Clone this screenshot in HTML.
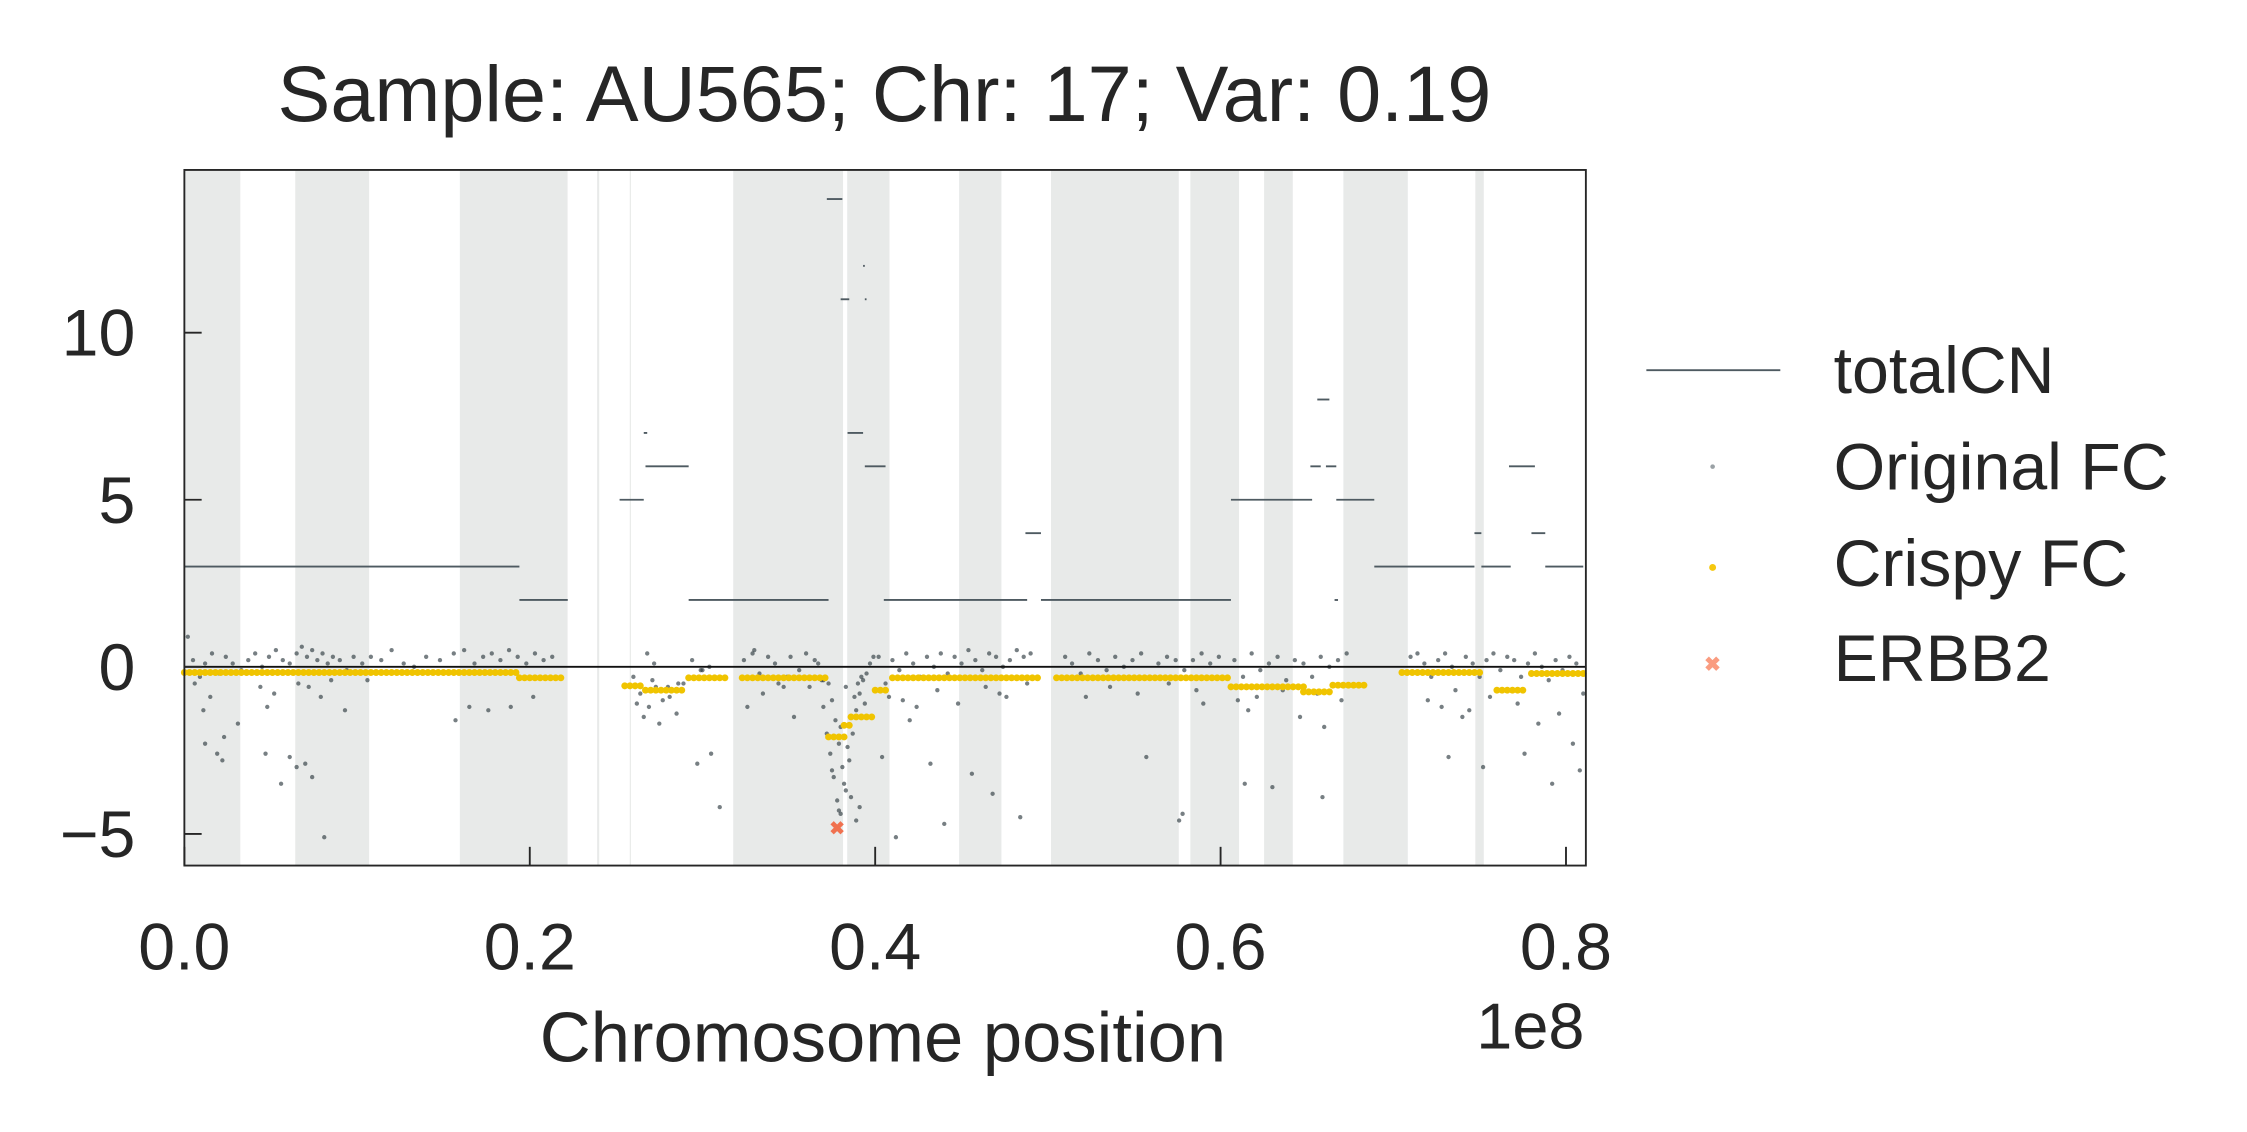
<!DOCTYPE html>
<html><head><meta charset="utf-8"><style>
html,body{margin:0;padding:0;background:#fff;}
svg{display:block;font-family:"Liberation Sans",sans-serif;}
</style></head><body>
<svg id="chart" width="2247" height="1132" viewBox="0 0 1560 786" preserveAspectRatio="none" xmlns="http://www.w3.org/2000/svg">
<rect width="1560" height="786" fill="#fff"/>
<text x="614" y="84" font-size="55" text-anchor="middle" fill="#262626">Sample: AU565; Chr: 17; Var: 0.19</text>
<g id="bands"></g><g id="cn"></g><g id="orig"></g><g id="crispy"></g><g id="erbb"></g>
<line x1="128" x2="1101" y1="463" y2="463" stroke="#111" stroke-width="1.3"/>
<rect x="128" y="118" width="973" height="483" fill="none" stroke="#262626" stroke-width="1.3"/>
<g id="axes"></g>
<text x="613" y="737" font-size="49" text-anchor="middle" fill="#262626">Chromosome position</text>
<text x="1100" y="728" font-size="45" text-anchor="end" fill="#262626">1e8</text>
<g>
<line x1="1143" x2="1236" y1="257" y2="257" stroke="#4e5a61" stroke-width="1.3"/>
<text x="1273" y="273" font-size="46" fill="#262626">totalCN</text>
<circle cx="1189" cy="324" r="1.6" fill="#9aa1a5"/>
<text x="1273" y="340" font-size="46" fill="#262626">Original FC</text>
<circle cx="1189" cy="394" r="2.4" fill="#f5c80f"/>
<text x="1273" y="407" font-size="46" fill="#262626">Crispy FC</text>
<text x="1189" y="466" font-size="14" text-anchor="middle" fill="#fa9c80" font-weight="bold">✖</text>
<text x="1273" y="473" font-size="46" fill="#262626">ERBB2</text>
</g>
</svg>
<script>
const NS="http://www.w3.org/2000/svg";
// positions in Mb; values in fold change / copy number
const bandStarts=[0,6.42,15.95,23.90,25.79,31.78,38.38,44.86,50.18,58.25,62.52,67.11,74.75];
const bandEnds=[3.24,10.70,22.19,24.02,25.85,38.14,40.83,47.31,57.58,61.07,64.18,70.84,75.24];
const cnStarts=[0,19.4,25.2,26.6,26.7,29.2,37.2,38.0,39.4,39.3,38.4,39.4,40.5,48.7,49.6,60.6,65.6,65.2,66.1,66.6,66.7,68.9,74.7,75.1,76.7,78.0,78.8];
const cnEnds=[19.4,22.2,26.6,26.8,29.2,37.3,38.1,38.5,39.5,39.4,39.3,40.6,48.8,49.6,60.6,65.3,66.3,65.8,66.7,66.8,68.9,74.7,75.1,76.8,78.2,78.8,81.0];
const cnValues=[3,2,5,7,6,2,14,11,11,12,7,6,2,4,2,5,8,6,6,2,5,3,4,3,6,4,3];
const crispyStarts=[0,19.4,25.5,26.7,29.2,32.3,37.3,38.2,38.6,40.0,41.0,50.5,60.6,64.8,66.5,70.5,76.0,78.0];
const crispyEnds=[19.3,21.8,26.5,29.0,31.5,37.2,38.2,38.5,40.0,40.8,49.5,60.4,64.8,66.5,68.5,75.0,77.5,81.0];
const crispyValues=[-0.17,-0.33,-0.57,-0.7,-0.33,-0.33,-2.1,-1.75,-1.5,-0.7,-0.33,-0.33,-0.6,-0.75,-0.55,-0.17,-0.7,-0.2];
const origX=[0.2,0.5,0.9,1.2,1.6,2.0,2.4,2.8,3.3,3.7,4.1,4.5,4.9,5.3,5.7,6.1,6.5,6.8,7.1,7.4,7.7,8.0,8.3,8.6,9.0,9.4,9.8,10.3,10.8,11.4,12.0,12.7,13.3,14.0,14.8,15.6,16.2,16.8,17.3,17.8,18.3,18.8,19.3,19.8,20.3,20.8,21.3,
0.6,1.1,1.5,2.3,3.1,4.4,4.8,5.2,6.6,7.2,7.9,8.5,9.3,10.6,16.5,17.6,
1.2,1.9,2.2,4.7,5.6,6.1,6.5,7.0,7.4,8.1,15.7,18.9,20.2,
26.0,26.4,26.9,27.3,27.7,28.1,28.5,28.9,29.4,29.9,30.4,26.2,26.6,27.1,27.5,28.0,28.6,26.8,27.2,29.7,30.5,31.0,
32.4,32.9,33.3,33.8,34.2,34.7,35.1,35.6,36.0,36.5,36.9,32.6,33.5,34.4,35.3,36.2,37.0,33.0,34.9,36.7,30.0,30.4,
37.3,37.5,37.7,37.9,38.1,38.3,38.5,38.7,38.9,39.1,39.3,39.5,39.7,39.9,37.4,37.6,37.8,38.0,38.2,38.4,38.6,38.8,39.0,39.2,37.0,37.2,37.5,38.0,38.6,39.1,38.9,39.4,37.9,38.3,39.8,40.4,
40.2,40.6,41.0,41.4,41.8,42.2,42.6,43.0,43.4,43.8,44.2,44.6,45.0,45.4,45.8,46.2,46.6,47.0,47.4,47.8,48.2,48.6,49.0,40.8,41.6,42.4,43.6,44.8,46.4,47.6,48.8,42.0,43.2,45.6,47.2,48.4,41.2,44.0,46.8,
51.0,51.4,51.9,52.4,52.9,53.4,53.9,54.4,54.9,55.4,55.9,56.4,56.9,57.4,57.9,58.4,58.9,59.4,59.9,52.2,53.6,55.2,57.0,58.6,55.7,57.6,57.8,59.0,
60.8,61.3,61.8,62.3,62.8,63.3,63.8,64.3,64.8,65.3,65.8,66.3,66.8,67.3,61.0,61.6,62.1,63.6,64.6,65.6,66.0,67.0,61.4,65.9,63.0,
71.0,71.4,71.8,72.2,72.6,73.0,73.4,73.8,74.2,74.6,75.0,75.4,75.8,76.2,76.6,77.0,77.4,77.8,78.2,78.6,79.0,79.4,79.8,80.2,80.6,81.0,72.0,72.8,73.6,74.4,75.6,77.2,78.4,79.6,80.4,73.2,75.2,77.6,79.2,80.8,74.0];
const origY=[0.9,0.2,-0.3,0.1,0.4,-0.2,0.3,0.1,-0.1,0.2,0.4,0.0,0.3,0.5,0.2,0.1,0.4,0.6,0.3,0.5,0.2,0.4,0.1,0.3,0.2,-0.1,0.3,0.1,0.3,0.2,0.5,0.1,0.0,0.3,0.2,0.4,0.5,0.1,0.3,0.4,0.2,0.5,0.3,0.1,0.4,0.2,0.3,
-0.5,-1.3,-0.9,-2.1,-1.7,-0.6,-1.2,-0.8,-0.5,-0.6,-0.9,-0.4,-1.3,-0.4,-1.2,-1.3,
-2.3,-2.6,-2.8,-2.6,-3.5,-2.7,-3.0,-2.9,-3.3,-5.1,-1.6,-1.2,-0.9,
-0.3,-0.8,-1.2,-0.6,-1.0,-0.9,-1.4,-0.5,0.2,-0.1,0.0,-1.1,-1.5,-0.4,-1.7,-0.6,-0.5,0.4,0.1,-2.9,-2.6,-4.2,
0.2,0.4,-0.2,0.3,0.1,-0.6,0.3,-0.1,0.4,0.2,-0.4,-1.2,-0.8,-0.5,-1.5,-0.6,-0.4,0.5,-0.3,0.1,-0.1,-0.3,
-0.5,-1.0,-1.6,-2.3,-3.0,-3.7,-2.8,-2.0,-1.3,-0.8,-0.4,-0.2,0.1,0.3,-2.6,-3.3,-4.0,-4.4,-3.5,-2.4,-1.5,-0.9,-0.5,-0.3,-1.2,-2.0,-3.1,-1.8,-3.9,-4.2,-4.6,-1.1,-4.3,-0.6,-1.5,-2.7,
0.3,-0.5,0.2,-0.1,0.4,0.1,-0.3,0.3,0.0,0.4,-0.2,0.3,0.1,0.5,0.2,-0.1,0.4,0.3,0.0,0.2,0.5,0.3,0.4,-0.9,-1.0,-1.2,-0.7,-1.1,-0.6,-0.9,-0.5,-1.6,-2.9,-3.2,-0.8,-4.5,-5.1,-4.7,-3.8,
0.3,0.1,-0.2,0.4,0.2,-0.1,0.3,0.0,0.2,0.4,-0.3,0.1,0.3,0.2,-0.1,0.2,0.4,0.1,0.3,-0.9,-0.6,-0.8,-0.5,-0.7,-2.7,-4.6,-4.4,-1.1,
0.2,-0.3,0.4,-0.1,0.1,0.3,-0.4,0.2,0.1,-0.3,0.3,0.0,0.2,0.4,-1.0,-1.3,-0.9,-0.7,-1.5,-0.8,-1.8,-1.0,-3.5,-3.9,-3.6,
0.3,0.4,0.1,-0.3,0.2,0.4,0.0,-0.2,0.3,0.1,-0.3,0.2,0.4,-0.1,0.3,0.2,-0.3,0.1,0.4,0.0,-0.4,0.2,-0.1,0.3,0.1,-0.8,-1.0,-1.2,-0.7,-1.3,-0.9,-1.1,-1.7,-1.4,-2.3,-2.7,-3.0,-2.6,-3.5,-3.1,-1.5];
const erbbX=[37.8];
const erbbY=[-4.8];

const X0=128,PX=1199/100,Y0=463,PY=23.2;
const sx=v=>X0+v*PX, sy=v=>Y0-v*PY;
function mk(t,p){const e=document.createElementNS(NS,t);for(const k in p)e.setAttribute(k,p[k]);return e;}
const gB=document.getElementById('bands');
bandStarts.forEach((s,i)=>{const r=mk('rect',{x:sx(s),y:118,width:Math.max(0.8,sx(bandEnds[i])-sx(s)),height:483,fill:'#e8eae9'});


gB.appendChild(r);});
const gC=document.getElementById('cn');
cnStarts.forEach((s,i)=>{const l=mk('line',{x1:sx(s),x2:sx(cnEnds[i]),y1:sy(cnValues[i]),y2:sy(cnValues[i]),stroke:'#4e5a61','stroke-width':1.3});


gC.appendChild(l);});
const gO=document.getElementById('orig');
origX.forEach((x,i)=>{const c=mk('circle',{cx:sx(x),cy:sy(origY[i]),r:1.5,fill:'#2e3a40','fill-opacity':0.65});


gO.appendChild(c);});
const gY=document.getElementById('crispy');
crispyStarts.forEach((s,i)=>{for(let x=s;x<=crispyEnds[i]+1e-6;x+=0.3){const c=mk('circle',{cx:sx(x),cy:sy(crispyValues[i]),r:2.4,fill:'#f0c400'});


gY.appendChild(c);}});
const gE=document.getElementById('erbb');
erbbX.forEach((x,i)=>{const t=mk('text',{x:sx(x),y:sy(erbbY[i])+5,'font-size':13,'text-anchor':'middle',fill:'#f0714f','font-weight':'bold'});t.textContent='✖';


gE.appendChild(t);});
const xTicks=[0,0.2,0.4,0.6,0.8], xTickLabels=['0.0','0.2','0.4','0.6','0.8'];
const yTicks=[-5,0,5,10], yTickLabels=['\u22125','0','5','10'];
const gA=document.getElementById('axes');
xTicks.forEach((v,i)=>{const x=sx(v*100);
const l=mk('line',{x1:x,x2:x,y1:601,y2:588,stroke:'#262626','stroke-width':1.3});


gA.appendChild(l);
const t=mk('text',{x:x,y:673,'font-size':46,'text-anchor':'middle',fill:'#262626'});t.textContent=xTickLabels[i];


gA.appendChild(t);});
yTicks.forEach((v,i)=>{const y=sy(v);
const l=mk('line',{x1:128,x2:140,y1:y,y2:y,stroke:'#262626','stroke-width':1.3});


gA.appendChild(l);
const t=mk('text',{x:94,y:y+16,'font-size':46,'text-anchor':'end',fill:'#262626'});t.textContent=yTickLabels[i];


gA.appendChild(t);});
</script>
</body></html>
